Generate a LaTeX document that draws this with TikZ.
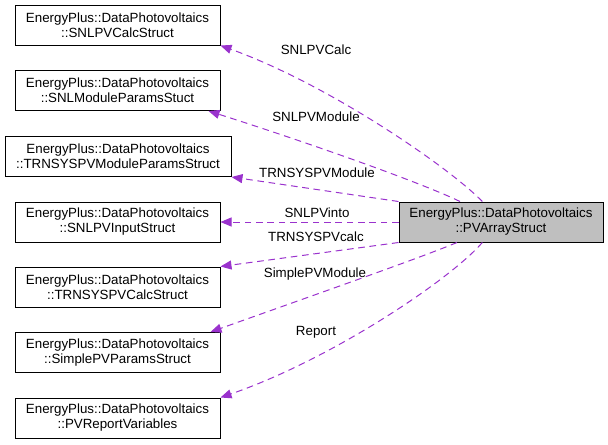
\documentclass[tikz,border=0pt]{standalone}
\usepackage{fontspec}
\setmainfont{Liberation Sans}
\usetikzlibrary{arrows.meta}
\definecolor{edgepurple}{HTML}{9A32CD}
\definecolor{mainfill}{HTML}{BFBFBF}

\begin{document}
\begin{tikzpicture}[x=0.75pt, y=-0.75pt,
    classbox/.style={draw=black, rectangle, line width=0.75pt, minimum width=153.75pt, minimum height=30pt, inner sep=2pt, align=center, font=\fontsize{10}{11.3}\selectfont},
    usage/.style={draw=edgepurple, line width=0.75pt, dash pattern=on 5pt off 3.5pt, -{Triangle[length=8.25pt, width=6.75pt, fill=edgepurple]}},
    edgelabel/.style={inner sep=1pt, font=\fontsize{10}{12}\selectfont}]

    \useasboundingbox (0,0) rectangle (608,444);

    % Nodes
    \node [classbox] at (117.5,25) (calc) {EnergyPlus::DataPhotovoltaics\\::SNLPVCalcStruct};
    \node [classbox] at (117.5,90.5) (modparams) {EnergyPlus::DataPhotovoltaics\\::SNLModuleParamsStuct};
    \node [classbox, minimum width=169.5pt] at (118,156.5) (trnmodparams) {EnergyPlus::DataPhotovoltaics\\::TRNSYSPVModuleParamsStruct};
    \node [classbox] at (117.5,222) (input) {EnergyPlus::DataPhotovoltaics\\::SNLPVInputStruct};
    \node [classbox] at (117.5,287) (trncalc) {EnergyPlus::DataPhotovoltaics\\::TRNSYSPVCalcStruct};
    \node [classbox] at (117.5,352.5) (simple) {EnergyPlus::DataPhotovoltaics\\::SimplePVParamsStruct};
    \node [classbox] at (117.5,418) (report) {EnergyPlus::DataPhotovoltaics\\::PVReportVariables};
    \node [classbox, fill=mainfill, minimum width=153pt] at (501,222) (array) {EnergyPlus::DataPhotovoltaics\\::PVArrayStruct};

    % Labels
    \node [edgelabel] at (316,50) (lcalc) {SNLPVCalc};
    \node [edgelabel] at (316,117) (lmod) {SNLPVModule};
    \node [edgelabel] at (317,173) (ltrnmod) {TRNSYSPVModule};
    \node [edgelabel] at (317,213) (linput) {SNLPVinto};
    \node [edgelabel] at (316,237) (ltrncalc) {TRNSYSPVcalc};
    \node [edgelabel] at (315,274) (lsimple) {SimplePVModule};
    \node [edgelabel] at (316,332) (lreport) {Report};

    % Arrows
    \draw [usage] ([xshift=-14pt]array.north) .. controls (450,168) and (330,85) .. (calc.south east);
    \draw [usage] ([xshift=-30.75pt]array.north) .. controls (420,182) and (300,140) .. ([xshift=-9pt]modparams.south east);
    \draw [usage] (array.north west) -- (trnmodparams.south east);
    \draw [usage] (array.west) -- (input.east);
    \draw [usage] (array.south west) -- (trncalc.north east);
    \draw [usage] ([xshift=-33pt]array.south) .. controls (420,258) and (300,300) .. ([xshift=-7.5pt]simple.north east);
    \draw [usage] ([xshift=-14pt]array.south) .. controls (450,280) and (330,360) .. (report.north east);

\end{tikzpicture}
\end{document}
